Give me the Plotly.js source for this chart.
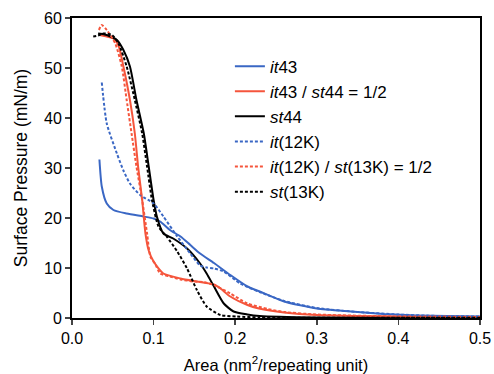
<!DOCTYPE html>
<html>
<head>
<meta charset="utf-8">
<script src="https://cdn.plot.ly/plotly-3.0.1.min.js"></script>
<style>html,body{margin:0;padding:0;background:#fff;}#chart{width:494px;height:374px;}</style>
</head>
<body>
<div id="chart"></div>
<script>
// it43 (solid blue)
const it43X = [0.0336, 0.0365, 0.0426, 0.0508, 0.067, 0.0876, 0.0999, 0.108, 0.12, 0.133, 0.145, 0.157, 0.174, 0.194, 0.215, 0.23, 0.26, 0.30, 0.342, 0.382, 0.423, 0.46, 0.5];
const it43Y = [31.7, 26.3, 22.9, 21.6, 20.9, 20.3, 19.9, 19.3, 17.6, 16.3, 14.6, 12.9, 11.0, 8.6, 6.3, 5.3, 3.3, 1.9, 1.3, 0.8, 0.5, 0.4, 0.3];
// it43 / st44 = 1/2 (solid red)
const mixX = [0.034, 0.045, 0.051, 0.057, 0.063, 0.071, 0.077, 0.081, 0.086, 0.09, 0.094, 0.1, 0.112, 0.133, 0.153, 0.174, 0.182, 0.194, 0.215, 0.229, 0.26, 0.30, 0.4, 0.5];
const mixY = [56.6, 56.2, 55.9, 54.5, 50.3, 43.6, 36.9, 30.3, 23.6, 16.9, 13.5, 11.3, 8.9, 7.9, 7.3, 6.7, 5.9, 4.3, 2.6, 1.9, 1.1, 0.6, 0.3, 0.2];
// st44 (solid black)
const st44X = [0.032, 0.04, 0.047, 0.055, 0.063, 0.071, 0.079, 0.088, 0.094, 0.1, 0.104, 0.112, 0.124, 0.141, 0.157, 0.165, 0.174, 0.186, 0.198, 0.215, 0.23, 0.3, 0.4, 0.5];
const st44Y = [56.9, 56.7, 56.3, 55.6, 53.6, 50.3, 43.6, 36.9, 30.3, 23.6, 20.3, 16.9, 15.9, 13.9, 10.9, 8.9, 6.3, 2.9, 1.3, 0.7, 0.4, 0.1, 0.05, 0.05];
// it(12K) (dashed blue)
const it12X = [0.0365, 0.0426, 0.055, 0.063, 0.071, 0.0835, 0.1, 0.112, 0.129, 0.145, 0.157, 0.165, 0.174, 0.186, 0.206, 0.23, 0.26, 0.30, 0.35, 0.4, 0.45, 0.5];
const it12Y = [47.1, 38.9, 32.9, 29.5, 26.9, 24.6, 22.9, 20.3, 16.3, 12.9, 10.5, 10.1, 9.9, 9.3, 6.9, 5.2, 3.4, 2.0, 1.2, 0.7, 0.4, 0.3];
// it(12K) / st(13K) = 1/2 (dashed red)
const mix12X = [0.033, 0.0365, 0.0426, 0.053, 0.061, 0.067, 0.073, 0.079, 0.086, 0.092, 0.096, 0.102, 0.108, 0.12, 0.133, 0.149, 0.161, 0.174, 0.194, 0.215, 0.24, 0.26, 0.3, 0.4, 0.5];
const mix12Y = [57.6, 58.6, 57.6, 54.9, 50.3, 43.6, 36.9, 30.3, 23.6, 16.9, 12.3, 10.8, 8.9, 8.3, 7.7, 7.3, 7.2, 6.6, 4.9, 2.9, 1.8, 1.2, 0.7, 0.3, 0.2];
// st(13K) (dashed black)
const st13X = [0.026, 0.032, 0.038, 0.049, 0.057, 0.067, 0.077, 0.086, 0.092, 0.098, 0.106, 0.116, 0.129, 0.141, 0.153, 0.165, 0.182, 0.202, 0.23, 0.3, 0.4, 0.5];
const st13Y = [56.3, 56.5, 56.9, 56.6, 54.9, 50.3, 43.6, 36.9, 30.3, 23.6, 18.3, 16.3, 13.3, 9.9, 5.6, 2.3, 0.6, 0.3, 0.1, 0.05, 0.05, 0.05];

const names = ['<i>it</i>43', '<i>it</i>43 / <i>st</i>44 = 1/2', '<i>st</i>44',
  '<i>it</i>(12K)', '<i>it</i>(12K) / <i>st</i>(13K) = 1/2', '<i>st</i>(13K)'];
const xTickVals = [0, 0.1, 0.2, 0.3, 0.4, 0.5];
const xTickText = ['0.0', '0.1', '0.2', '0.3', '0.4', '0.5'];
const yTickVals = [0, 10, 20, 30, 40, 50, 60];

const BLUE = '#3a67c4', RED = '#f5553c', BLACK = '#000000';
function tr(x, y, name, color, dashed) {
  return {x: x, y: y, name: name, type: 'scatter', mode: 'lines',
    line: {color: color, width: 2, dash: dashed ? '3px,2px' : 'solid', shape: 'spline', smoothing: 0.6}};
}
const data = [
  tr(it43X, it43Y, names[0], BLUE, false),
  tr(mixX, mixY, names[1], RED, false),
  tr(st44X, st44Y, names[2], BLACK, false),
  tr(it12X, it12Y, names[3], BLUE, true),
  tr(mix12X, mix12Y, names[4], RED, true),
  tr(st13X, st13Y, names[5], BLACK, true)
];
const F = 'Liberation Sans, Arial, sans-serif';
const layout = {
  width: 494, height: 374,
  margin: {l: 72, r: 14, t: 18, b: 56},
  paper_bgcolor: '#fff', plot_bgcolor: '#fff',
  font: {family: F, size: 16, color: '#000'},
  showlegend: true,
  legend: {x: 0.387, y: 0.898, xanchor: 'left', yanchor: 'top', bgcolor: 'rgba(0,0,0,0)',
    font: {family: F, size: 17, color: '#000'}, traceorder: 'normal'},
  xaxis: {range: [0, 0.5], tickvals: xTickVals, ticktext: xTickText, ticks: 'outside', ticklen: 5,
    tickwidth: 1.5, showline: true, linewidth: 2, linecolor: '#000', mirror: true, showgrid: false,
    zeroline: false, tickfont: {size: 16},
    title: {text: 'Area (nm<sup>2</sup>/repeating unit)', font: {size: 16.5}, standoff: 16}},
  yaxis: {range: [0, 60], tickvals: yTickVals, ticks: 'outside', ticklen: 5, tickwidth: 1.5,
    showline: true, linewidth: 2, linecolor: '#000', mirror: true, showgrid: false, zeroline: false,
    tickfont: {size: 16},
    title: {text: 'Surface Pressure (mN/m)', font: {size: 17.5}, standoff: 12}}
};
Plotly.newPlot('chart', data, layout, {displayModeBar: false, staticPlot: true});
</script>
</body>
</html>
